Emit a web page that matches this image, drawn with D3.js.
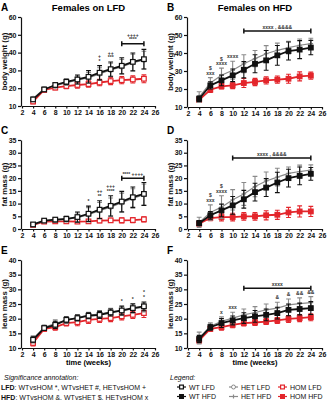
<!DOCTYPE html>
<html><head><meta charset="utf-8">
<script src="https://cdn.jsdelivr.net/npm/d3@7"></script>
<style>
html,body{margin:0;padding:0;background:#fff;}
svg{display:block;font-family:"Liberation Sans",Arial,sans-serif;}
.axis text{font-size:7px;font-weight:bold;fill:#111;}
.axis path,.axis line{stroke:#111;stroke-width:1.2;}
</style></head>
<body>
<svg id="c" width="330" height="400"></svg>
<script>
// ---- data ----
const weeks = [4,6,8,10,12,14,16,18,20,22,24];
const xTicks = [2,4,6,8,10,12,14,16,18,20,22,24,26];
const bwTicks = [10,20,30,40,50,60];
const fatTicks = [0,5,10,15,20,25,30,35];
const leanTicks = [10,15,20,25,30,35,40];

// body weight (g)
const bwWtLfd    = [13.7,19.3,21.8,23.6,24.9,26.4,28.7,30.7,32.6,34.8,36.3];
const bwWtLfdSd  = [1.0,1.0,1.2,1.5,2.5,3.5,4.0,4.0,4.5,5.0,5.5];
const bwHetLfd   = [14.2,19.6,21.4,23.0,24.6,25.8,28.0,30.2,32.0,34.3,35.8];
const bwHetLfdSd = [1.0,1.0,1.2,1.5,2.2,3.0,3.5,3.8,4.2,4.8,5.0];
const bwHomLfd   = [12.5,19.0,20.3,21.2,21.8,22.3,23.2,24.0,24.5,24.9,25.3];
const bwHomLfdSd = [1.2,1.0,1.2,1.5,1.8,1.8,1.8,2.0,2.0,2.0,2.2];
const bwWtHfd    = [14.6,22.0,24.8,27.6,30.7,34.0,35.9,38.7,41.1,41.9,43.0];
const bwWtHfdSd  = [1.5,2.0,3.0,3.5,4.5,5.0,5.5,5.5,5.0,5.0,4.0];
const bwHetHfd   = [15.5,23.3,27.6,30.4,34.0,36.9,39.6,41.5,43.0,44.3,45.2];
const bwHetHfdSd = [3.0,3.0,4.0,5.0,5.0,4.5,4.5,4.0,3.5,3.5,3.0];
const bwHomHfd   = [14.0,19.6,21.5,22.0,23.3,23.9,24.8,25.2,25.7,27.0,27.4];
const bwHomHfdSd = [1.5,1.5,1.5,1.8,2.5,2.0,2.0,2.0,2.5,2.5,2.0];

// fat mass (g)
const fatWtLfd    = [1.8,3.3,3.7,4.0,4.7,6.0,7.6,9.1,10.8,12.5,13.8];
const fatWtLfdSd  = [0.4,0.5,0.8,1.0,2.0,3.0,3.5,4.0,4.0,4.0,4.5];
const fatHetLfd   = [1.7,3.2,3.5,3.8,4.5,5.6,7.2,8.6,10.3,12.0,13.5];
const fatHetLfdSd = [0.4,0.5,0.7,1.0,1.8,2.8,3.2,3.6,3.8,3.8,4.2];
const fatHomLfd   = [1.6,2.9,3.0,3.0,2.9,3.0,3.3,3.4,3.4,3.5,3.8];
const fatHomLfdSd = [0.3,0.5,0.6,0.6,0.6,0.7,0.8,0.8,1.0,1.0,1.0];
const fatWtHfd    = [2.3,5.4,7.3,9.3,11.7,14.5,16.3,18.3,20.0,20.9,21.7];
const fatWtHfdSd  = [1.0,1.5,2.5,3.5,3.5,3.5,3.5,4.0,3.5,3.5,2.5];
const fatHetHfd   = [2.6,6.5,8.6,11.5,13.8,16.7,18.9,20.4,21.9,22.6,23.2];
const fatHetHfdSd = [2.0,3.0,4.5,4.0,4.5,4.0,3.5,3.5,2.5,2.5,2.0];
const fatHomHfd   = [2.1,4.3,4.7,4.7,5.0,5.0,5.4,5.6,6.5,6.9,6.9];
const fatHomHfdSd = [0.5,1.0,1.5,1.5,1.5,1.5,1.8,1.8,2.0,2.2,2.0];

// lean mass (g)
const leanWtLfd    = [12.8,16.8,17.9,19.6,20.2,21.0,21.3,22.1,22.8,23.6,24.2];
const leanWtLfdSd  = [1.0,0.8,1.2,1.0,1.0,1.0,1.2,1.2,1.5,1.5,1.5];
const leanHetLfd   = [13.2,17.0,18.4,19.4,20.4,21.2,21.6,22.3,22.6,23.4,23.8];
const leanHetLfdSd = [1.0,0.8,1.2,1.0,1.0,1.0,1.2,1.2,1.5,1.5,1.5];
const leanHomLfd   = [11.7,16.5,17.1,18.5,18.8,19.6,19.9,20.2,20.8,21.3,21.9];
const leanHomLfdSd = [1.0,0.8,1.0,1.0,1.2,1.2,1.2,1.2,1.2,1.2,1.5];
const leanWtHfd    = [13.1,17.1,18.5,19.4,20.2,20.8,21.3,21.9,23.0,23.3,23.6];
const leanWtHfdSd  = [1.2,1.0,1.5,1.5,1.8,2.0,2.0,2.0,2.0,2.0,2.2];
const leanHetHfd   = [13.4,17.4,19.1,20.2,21.3,22.1,23.0,23.6,24.7,25.1,25.5];
const leanHetHfdSd = [2.0,1.2,1.5,2.0,2.0,2.0,2.0,2.0,2.0,2.0,2.0];
const leanHomHfd   = [12.6,16.5,17.1,17.9,18.5,18.7,19.0,19.4,19.9,20.2,20.5];
const leanHomHfdSd = [1.0,0.8,1.0,1.0,1.0,1.0,1.0,1.0,1.2,1.2,1.2];

// significance annotations
const annA = [{w:16,t:["+","*"]},{w:18,t:["++","***"]}];
const brA  = {from:20,to:24,y:45,t:["++++","****"]};
const annB = [{w:6,t:["$","xxx"]},{w:8,t:["$","xxxx"]},{w:10,t:["xxxx"]}];
const brB  = {from:12,to:24,y:52.2,t:["xxxx , &&&&"]};
const annC = [{w:14,t:["*"]},{w:16,t:["++","**"]},{w:18,t:["+++","****"]}];
const brC  = {from:20,to:24,y:20,t:["**** ++++"]};
const annD = [{w:6,t:["$","xxx"]},{w:8,t:["$","xxxx"]}];
const brD  = {from:10,to:24,y:27.9,t:["xxxx , &&&&"]};
const annE = [{w:20,t:["*"]},{w:22,t:["*"]},{w:24,t:["*","*"]}];
const annF = [{w:8,t:["x"]},{w:10,t:["xxx"]},{w:18,t:["&"]},{w:20,t:["&"]},{w:22,t:["&&"]},{w:24,t:["&&"]}];
const brF  = {from:12,to:24,y:30.4,t:["xxxx"]};

const legendLabels = ["WT LFD","HET LFD","HOM LFD","WT HFD","HET HFD","HOM HFD"];

// ---- styles ----
const RED = "#e3252b", GREY = "#8a8a8a";
const st = {
  wtL:{c:"#111",fill:"#fff",shape:"sq",lw:1.8},
  hetL:{c:GREY,fill:"#fff",shape:"ci",lw:1.2},
  homL:{c:RED,fill:"#fff",shape:"sq",lw:1.8},
  wtH:{c:"#111",fill:"#111",shape:"sq",lw:1.8},
  hetH:{c:GREY,fill:GREY,shape:"plus",lw:1.2},
  homH:{c:RED,fill:RED,shape:"sq",lw:1.8}
};

const svg = d3.select("#c");
const colL=[22,155], colR=[188,322];

const panels = [
 {L:"A",xr:colL,yr:[106,17],dom:[10,60],ticks:bwTicks,yl:"body weight (g)",title:"Females on LFD",
  series:[["homL",bwHomLfd,bwHomLfdSd],["hetL",bwHetLfd,bwHetLfdSd],["wtL",bwWtLfd,bwWtLfdSd]],ann:annA,br:brA},
 {L:"B",xr:colR,yr:[107,17],dom:[10,60],ticks:bwTicks,yl:"body weight (g)",title:"Females on HFD",
  series:[["homH",bwHomHfd,bwHomHfdSd],["hetH",bwHetHfd,bwHetHfdSd],["wtH",bwWtHfd,bwWtHfdSd]],ann:annB,br:brB},
 {L:"C",xr:colL,yr:[229,140],dom:[0,35],ticks:fatTicks,yl:"fat mass (g)",
  series:[["homL",fatHomLfd,fatHomLfdSd],["hetL",fatHetLfd,fatHetLfdSd],["wtL",fatWtLfd,fatWtLfdSd]],ann:annC,br:brC},
 {L:"D",xr:colR,yr:[229,140],dom:[0,35],ticks:fatTicks,yl:"fat mass (g)",
  series:[["homH",fatHomHfd,fatHomHfdSd],["hetH",fatHetHfd,fatHetHfdSd],["wtH",fatWtHfd,fatWtHfdSd]],ann:annD,br:brD},
 {L:"E",xr:colL,yr:[348,260],dom:[10,40],ticks:leanTicks,yl:"lean mass (g)",xl:true,
  series:[["homL",leanHomLfd,leanHomLfdSd],["hetL",leanHetLfd,leanHetLfdSd],["wtL",leanWtLfd,leanWtLfdSd]],ann:annE},
 {L:"F",xr:colR,yr:[348,260],dom:[10,40],ticks:leanTicks,yl:"lean mass (g)",xl:true,
  series:[["homH",leanHomHfd,leanHomHfdSd],["hetH",leanHetHfd,leanHetHfdSd],["wtH",leanWtHfd,leanWtHfdSd]],ann:annF,br:brF}
];

function marker(g, shape, cx, cy, s, size){
  if(shape==="sq"){
    g.append("rect").attr("x",cx-size/2).attr("y",cy-size/2).attr("width",size).attr("height",size)
     .attr("fill",s.fill).attr("stroke",s.c).attr("stroke-width",1.2);
  } else if(shape==="ci"){
    g.append("circle").attr("cx",cx).attr("cy",cy).attr("r",size/2).attr("fill",s.fill).attr("stroke",s.c).attr("stroke-width",1);
  } else {
    g.append("path").attr("d",`M${cx-size/2},${cy}H${cx+size/2}M${cx},${cy-size/2}V${cy+size/2}`)
     .attr("stroke",s.c).attr("stroke-width",1.2);
  }
}

panels.forEach(p=>{
  const x = d3.scaleLinear().domain([2,26]).range(p.xr);
  const y = d3.scaleLinear().domain(p.dom).range(p.yr);
  const g = svg.append("g");
  // axes
  g.append("g").attr("class","axis").attr("transform",`translate(0,${p.yr[0]})`)
   .call(d3.axisBottom(x).tickValues(xTicks).tickSize(2.5).tickSizeOuter(0).tickPadding(1.5));
  g.append("g").attr("class","axis").attr("transform",`translate(${p.xr[0]-1},0)`)
   .call(d3.axisLeft(y).tickValues(p.ticks).tickSize(3).tickSizeOuter(0).tickPadding(1.5));
  // y label
  g.append("text").attr("transform",`translate(${p.xr[0]-15},${(p.yr[0]+p.yr[1])/2}) rotate(-90)`)
   .attr("text-anchor","middle").attr("font-size",7.8).attr("font-weight","bold").attr("fill","#111").text(p.yl);
  // panel letter
  g.append("text").attr("x",p.xr[0]-21).attr("y",p.yr[1]-6).attr("font-size",10).attr("font-weight","bold").text(p.L);
  if(p.title) g.append("text").attr("x",(p.xr[0]+p.xr[1])/2).attr("y",p.yr[1]-6).attr("text-anchor","middle")
     .attr("font-size",9.5).attr("font-weight","bold").text(p.title);
  if(p.xl) g.append("text").attr("x",(p.xr[0]+p.xr[1])/2).attr("y",p.yr[0]+17).attr("text-anchor","middle")
     .attr("font-size",7.5).attr("font-weight","bold").text("time (weeks)");
  // series
  const tops = weeks.map(()=>Infinity);
  p.series.forEach(([k,m,sd])=>{
    const s = st[k];
    const sg = g.append("g");
    // error bars
    weeks.forEach((w,i)=>{
      const xx=x(w), y1=y(m[i]+sd[i]), y2=y(m[i]-sd[i]);
      tops[i]=Math.min(tops[i],y1);
      sg.append("path").attr("d",`M${xx},${y1}V${y2}M${xx-2.4},${y1}H${xx+2.4}M${xx-2.4},${y2}H${xx+2.4}`)
        .attr("stroke",s.c).attr("stroke-width",1.1).attr("fill","none");
    });
    sg.append("path").datum(m.map((v,i)=>[weeks[i],v]))
      .attr("d",d3.line().x(d=>x(d[0])).y(d=>y(d[1])))
      .attr("fill","none").attr("stroke",s.c).attr("stroke-width",s.lw);
    weeks.forEach((w,i)=>marker(sg,s.shape,x(w),y(m[i]),s,s.shape==="ci"?4.6:4.6));
  });
  // annotations
  (p.ann||[]).forEach(a=>{
    const i = weeks.indexOf(a.w);
    const n=a.t.length;
    a.t.forEach((t,j)=>{
      g.append("text").attr("x",x(a.w)).attr("y",tops[i]-3-(n-1-j)*4.5).attr("text-anchor","middle")
       .attr("font-size",5).attr("font-weight","bold").attr("fill","#333").text(t);
    });
  });
  if(p.br){
    const b=p.br, by=y(b.y);
    g.append("path").attr("d",`M${x(b.from)},${by-2.5}V${by+2.5}M${x(b.from)},${by}H${x(b.to)}M${x(b.to)},${by-2.5}V${by+2.5}`)
     .attr("stroke","#111").attr("stroke-width",1.5).attr("fill","none");
    const n=b.t.length;
    b.t.forEach((t,j)=>{
      g.append("text").attr("x",(x(b.from)+x(b.to))/2).attr("y",by-2.5-(n-1-j)*4.5).attr("text-anchor","middle")
       .attr("font-size",5).attr("font-weight","bold").attr("fill","#333").text(t);
    });
  }
});

// significance annotation text
const ft = svg.append("g").attr("font-size",7).attr("fill","#111");
ft.append("text").attr("x",4).attr("y",380).attr("font-style","italic").text("Significance annotation:");
const r1 = ft.append("text").attr("x",1).attr("y",390);
r1.append("tspan").attr("font-weight","bold").text("LFD");
r1.append("tspan").text(": WTvsHOM *,  WTvsHET #, HETvsHOM +");
const r2 = ft.append("text").attr("x",1).attr("y",399.5);
r2.append("tspan").attr("font-weight","bold").text("HFD");
r2.append("tspan").text(": WTvsHOM &,  WTvsHET $, HETvsHOM x");

// legend
const lg = svg.append("g").attr("font-size",7).attr("fill","#111");
lg.append("text").attr("x",170).attr("y",380).attr("font-style","italic").text("Legend:");
const keys = ["wtL","hetL","homL","wtH","hetH","homH"];
const lx = [177,229,278], ly=[387,396.5];
keys.forEach((k,i)=>{
  const s=st[k], cx=lx[i%3], cy=ly[Math.floor(i/3)];
  lg.append("path").attr("d",`M${cx},${cy}H${cx+9}`).attr("stroke",s.c).attr("stroke-width",1.2);
  marker(lg,s.shape,cx+4.5,cy,s,s.shape==="ci"?4:3.8);
  lg.append("text").attr("x",cx+12).attr("y",cy+2.5).text(legendLabels[i]);
});
</script>
</body></html>
